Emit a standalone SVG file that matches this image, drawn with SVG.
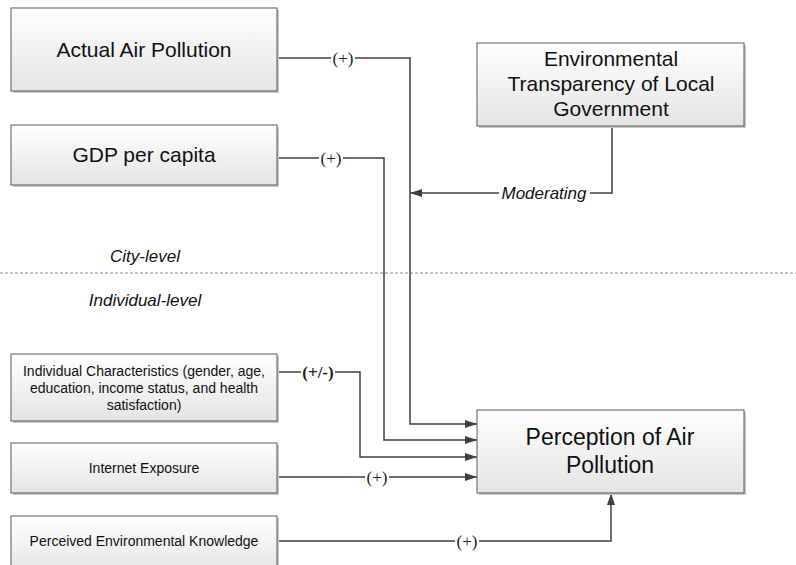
<svg xmlns="http://www.w3.org/2000/svg" width="796" height="565" viewBox="0 0 796 565">
<style>
.box{fill:url(#g);stroke:#5a5a5a;stroke-width:1}
.sh{fill:#c8c8c8}
.t{font-family:"Liberation Sans",Arial,sans-serif;fill:#111;text-anchor:middle}
.big{font-size:21px}
.sm{font-size:14px}
.it{font-family:"Liberation Sans",Arial,sans-serif;font-style:italic;font-size:17px;fill:#111;text-anchor:middle}
.lbl{font-family:"Liberation Serif","Times New Roman",serif;font-size:17px;fill:#222;text-anchor:middle}
.c{fill:none;stroke:#404040;stroke-width:1.5}
.bg{fill:#fff}
</style>
<defs>
<linearGradient id="g" x1="0" y1="0" x2="0" y2="1">
<stop offset="0" stop-color="#ffffff"/>
<stop offset="1" stop-color="#e4e4e4"/>
</linearGradient>
<marker id="a" markerUnits="userSpaceOnUse" markerWidth="13" markerHeight="9" refX="12" refY="4" orient="auto">
<path d="M0,0 L12,4 L0,8 z" fill="#404040"/>
</marker>
</defs>
<rect width="796" height="565" fill="#fff"/>
<line x1="0" y1="273" x2="796" y2="273" stroke="#8a8a8a" stroke-width="1" stroke-dasharray="3,2"/>
<text class="it" x="145" y="262">City-level</text>
<text class="it" x="145" y="306">Individual-level</text>
<g id="connectors">
<path class="c" d="M277,58 H410 V424 H477" marker-end="url(#a)"/>
<path class="c" d="M277,158 H384 V440 H477" marker-end="url(#a)"/>
<path class="c" d="M277,372 H360 V457 H477" marker-end="url(#a)"/>
<path class="c" d="M277,477 H477" marker-end="url(#a)"/>
<path class="c" d="M277,541 H611 V493" marker-end="url(#a)"/>
<path class="c" d="M612,126 V193 H410" marker-end="url(#a)"/>
<rect class="bg" x="331" y="48" width="24" height="20"/>
<text class="lbl" x="343" y="64">(+)</text>
<rect class="bg" x="319" y="148" width="24" height="20"/>
<text class="lbl" x="331" y="164">(+)</text>
<rect class="bg" x="301" y="362" width="34" height="20"/>
<text class="lbl" x="318" y="378" font-weight="bold">(+/-)</text>
<rect class="bg" x="365" y="467" width="24" height="20"/>
<text class="lbl" x="377" y="483">(+)</text>
<rect class="bg" x="455" y="531" width="24" height="20"/>
<text class="lbl" x="467" y="547">(+)</text>
<rect class="bg" x="499" y="183" width="91" height="20"/>
<text class="it" x="544" y="199">Moderating</text>
</g>
<g id="actual">
<rect class="sh" x="13" y="10" width="266" height="83"/>
<rect class="box" x="11" y="8" width="266" height="83"/>
<text class="t big" x="144" y="57">Actual Air Pollution</text>
</g>
<g id="gdp">
<rect class="sh" x="13" y="127" width="266" height="60"/>
<rect class="box" x="11" y="125" width="266" height="60"/>
<text class="t big" x="144" y="162">GDP per capita</text>
</g>
<g id="transparency">
<rect class="sh" x="479" y="45" width="267" height="83"/>
<rect class="box" x="477" y="43" width="267" height="83"/>
<text class="t big" x="611" y="66">Environmental</text>
<text class="t big" x="611" y="91">Transparency of Local</text>
<text class="t big" x="611" y="116">Government</text>
</g>
<g id="individual">
<rect class="sh" x="13" y="356" width="266" height="67"/>
<rect class="box" x="11" y="354" width="266" height="67"/>
<text class="t sm" x="144" y="376">Individual Characteristics (gender, age,</text>
<text class="t sm" x="144" y="393">education, income status, and health</text>
<text class="t sm" x="144" y="410">satisfaction)</text>
</g>
<g id="internet">
<rect class="sh" x="13" y="445" width="266" height="50"/>
<rect class="box" x="11" y="443" width="266" height="50"/>
<text class="t sm" x="144" y="473">Internet Exposure</text>
</g>
<g id="knowledge">
<rect class="sh" x="13" y="518" width="266" height="60"/>
<rect class="box" x="11" y="516" width="266" height="60"/>
<text class="t sm" x="144" y="546">Perceived Environmental Knowledge</text>
</g>
<g id="perception">
<rect class="sh" x="479" y="412" width="267" height="83"/>
<rect class="box" x="477" y="410" width="267" height="83"/>
<text class="t" font-size="23" x="610" y="445">Perception of Air</text>
<text class="t" font-size="23" x="610" y="473">Pollution</text>
</g>
</svg>
